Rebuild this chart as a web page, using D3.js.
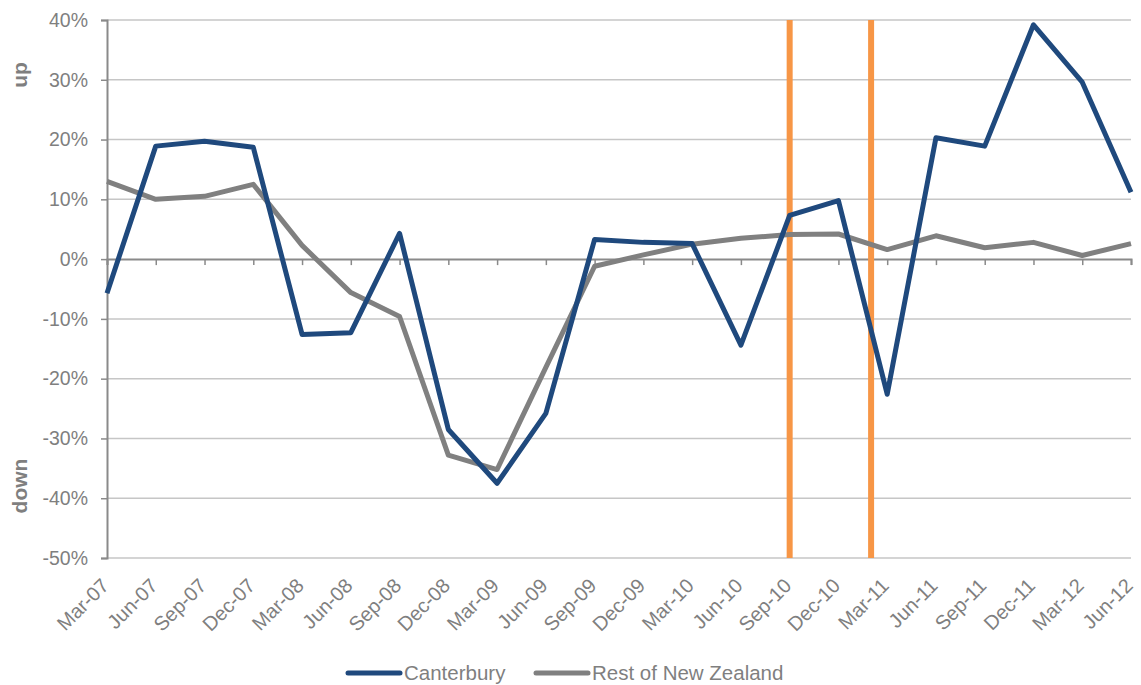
<!DOCTYPE html>
<html>
<head>
<meta charset="utf-8">
<script src="https://cdn.jsdelivr.net/npm/d3@7"></script>
<style>
  html, body { margin: 0; padding: 0; background: #fff; }
  svg { display: block; font-family: "Liberation Sans", Arial, sans-serif; }
</style>
</head>
<body>
<svg id="chart" width="1141" height="685"></svg>
<script>
// Quarterly change, Canterbury vs rest of New Zealand (%)
const quarters = ["Mar-07","Jun-07","Sep-07","Dec-07","Mar-08","Jun-08","Sep-08","Dec-08",
  "Mar-09","Jun-09","Sep-09","Dec-09","Mar-10","Jun-10","Sep-10","Dec-10",
  "Mar-11","Jun-11","Sep-11","Dec-11","Mar-12","Jun-12"];
const canterbury = [-5.7, 18.9, 19.7, 18.7, -12.6, -12.3, 4.3, -28.5,
  -37.5, -25.8, 3.3, 2.8, 2.6, -14.4, 7.3, 9.8,
  -22.6, 20.3, 18.9, 39.2, 29.6, 11.2];
const restOfNZ = [13.0, 10.0, 10.5, 12.5, 2.3, -5.6, -9.6, -32.8,
  -35.2, -18.1, -1.2, 0.7, 2.5, 3.5, 4.1, 4.2,
  1.6, 3.9, 1.9, 2.8, 0.6, 2.6];
const yTicks = [40, 30, 20, 10, 0, -10, -20, -30, -40, -50];
// Earthquake markers: position on the quarter index scale (Sep 2010, Feb 2011)
const quakeMarks = [14, 15.67];
const seriesNames = ["Canterbury", "Rest of New Zealand"];

const colors = { canterbury: "#1f497d", rest: "#808080", quake: "#f79646",
  grid: "#c6c6c6", axis: "#8a8a8a", text: "#7f7f7f" };

const svg = d3.select("#chart");
const plot = { left: 107, right: 1131, top: 20, bottom: 558 };

const x = d3.scaleLinear().domain([0, quarters.length - 1]).range([plot.left, plot.right]);
const y = d3.scaleLinear().domain([-50, 40]).range([plot.bottom, plot.top]);

// Horizontal gridlines
svg.append("g").selectAll("line").data(yTicks.filter(d => d !== 0)).join("line")
  .attr("x1", plot.left).attr("x2", plot.right)
  .attr("y1", d => y(d)).attr("y2", d => y(d))
  .attr("stroke", colors.grid).attr("stroke-width", 1.5);

// Y axis
const yAxis = d3.axisLeft(y).tickValues(yTicks).tickSize(6).tickPadding(13)
  .tickFormat(d => d + "%");
const gy = svg.append("g").attr("transform", `translate(${plot.left},0)`).call(yAxis);
gy.select(".domain").attr("stroke", colors.axis).attr("stroke-width", 2);
gy.selectAll(".tick line").attr("stroke", colors.axis).attr("stroke-width", 1.5);
gy.selectAll(".tick text").attr("fill", colors.text).attr("font-size", 19.5)
  .attr("font-family", "Liberation Sans, Arial, sans-serif");

// Zero line with quarter ticks
const xAxis = d3.axisBottom(x).tickValues(d3.range(quarters.length))
  .tickSize(6).tickFormat("");
const gx = svg.append("g").attr("transform", `translate(0,${y(0)})`).call(xAxis);
gx.select(".domain").attr("stroke", colors.axis).attr("stroke-width", 2);
gx.selectAll(".tick line").attr("stroke", colors.axis).attr("stroke-width", 1.5);

// Category labels under the plot
svg.append("g").selectAll("text").data(quarters).join("text")
  .attr("transform", (d, i) => `translate(${x(i) + 3},${plot.bottom + 29}) rotate(-45)`)
  .attr("text-anchor", "end")
  .attr("fill", colors.text).attr("font-size", 20)
  .text(d => d);

// Earthquake markers
svg.append("g").selectAll("line").data(quakeMarks).join("line")
  .attr("x1", d => x(d)).attr("x2", d => x(d))
  .attr("y1", plot.top).attr("y2", plot.bottom)
  .attr("stroke", colors.quake).attr("stroke-width", 6);

// Series lines
const line = d3.line().x((d, i) => x(i)).y(d => y(d));
svg.append("path").datum(restOfNZ)
  .attr("d", line).attr("fill", "none")
  .attr("stroke", colors.rest).attr("stroke-width", 5).attr("stroke-linejoin", "round");
svg.append("path").datum(canterbury)
  .attr("d", line).attr("fill", "none")
  .attr("stroke", colors.canterbury).attr("stroke-width", 5).attr("stroke-linejoin", "round");

// Direction labels
svg.append("text").attr("transform", "translate(20,75) rotate(-90)")
  .attr("text-anchor", "middle").attr("dy", "0.35em")
  .attr("font-weight", "bold").attr("font-size", 21).attr("fill", colors.text).text("up");
svg.append("text").attr("transform", "translate(20,486) rotate(-90)")
  .attr("text-anchor", "middle").attr("dy", "0.35em")
  .attr("font-weight", "bold").attr("font-size", 21).attr("fill", colors.text).text("down");

// Legend
const legend = [
  { name: seriesNames[0], color: colors.canterbury, x0: 348 },
  { name: seriesNames[1], color: colors.rest, x0: 536 }
];
const lg = svg.append("g").selectAll("g").data(legend).join("g")
  .attr("transform", d => `translate(${d.x0},673)`);
lg.append("line").attr("x1", 0).attr("x2", 52).attr("y1", 0).attr("y2", 0)
  .attr("stroke", d => d.color).attr("stroke-width", 5).attr("stroke-linecap", "round");
lg.append("text").attr("x", 56).attr("dy", "0.35em")
  .attr("fill", colors.text).attr("font-size", 20.5).text(d => d.name);
</script>
</body>
</html>
